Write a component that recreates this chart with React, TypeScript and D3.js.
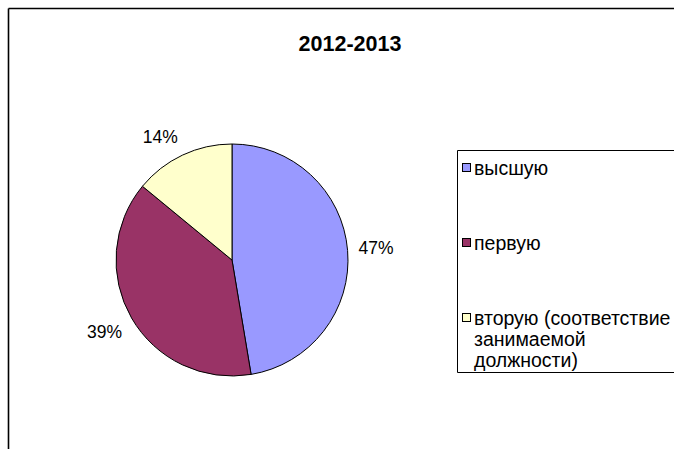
import React from 'react';
import * as d3 from 'd3';

const title = '2012-2013';
const categories = ['высшую', 'первую', 'вторую (соответствие занимаемой должности)'];
const values = [27, 22, 8];
const legendLines = [['высшую'], ['первую'], ['вторую (соответствие', 'занимаемой', 'должности)']];
const colors = ['#9999FF', '#993366', '#FFFFCC'];

const W = 720;
const H = 480;
const FONT = 'Liberation Sans, Arial, sans-serif';

const charW: Record<string, number> = { '0': 0.556, '1': 0.556, '2': 0.556, '3': 0.556, '4': 0.556, '5': 0.556, '6': 0.556, '7': 0.556, '8': 0.556, '9': 0.556, '%': 0.889 };
const textWidth = (s: string, fs: number) => s.split('').reduce((a, c) => a + (charW[c] ?? 0.556), 0) * fs;

export default function App() {
  const cx = 232, cy = 260, r = 116;
  const labelFs = 17.5;
  const legendFs = 19.5;
  const total = d3.sum(values);
  const pie = d3.pie<number>().sort(null).value((d) => d).startAngle(0).endAngle(2 * Math.PI);
  const arcs = pie(values);
  const arc = d3.arc<d3.PieArcDatum<number>>().innerRadius(0).outerRadius(r);
  const clamp = (v: number) => Math.max(-1, Math.min(1, v));

  const legendY = d3.scalePoint<string>().domain(categories).range([168, 318]);
  const lgTop = 150.5, lgBottom = 372.5, lgLeft = 457.5;

  return (
    <svg width={W} height={H} style={{ position: 'fixed', left: 0, top: 0, background: '#fff', display: 'block' }} fontFamily={FONT}>
      <line x1={8.5} y1={8.5} x2={W} y2={8.5} stroke="#000" strokeWidth={1.3} />
      <line x1={8.5} y1={8.5} x2={8.5} y2={H} stroke="#000" strokeWidth={1.6} />
      <text x={350} y={51} textAnchor="middle" fontWeight="bold" fontSize={21.5} fill="#000">{title}</text>
      <g transform={`translate(${cx},${cy})`}>
        {arcs.map((a, i) => (
          <path key={i} d={arc(a) || ''} fill={colors[i]} stroke="#000" strokeWidth={1} />
        ))}
      </g>
      {arcs.map((a, i) => {
        const mid = (a.startAngle + a.endAngle) / 2;
        const s = Math.sin(mid), c = Math.cos(mid);
        const rr = r + 11;
        const px = cx + rr * s, py = cy - rr * c;
        const label = `${Math.round((values[i] / total) * 100)}%`;
        const w = textWidth(label, labelFs);
        const h = labelFs * 0.92;
        const x = px + (w / 2) * clamp(s * 3);
        const y = py - (h / 2) * clamp(c * 3);
        return (
          <text key={i} x={x} y={y} dy="0.35em" textAnchor="middle" fontSize={labelFs} fill="#000">{label}</text>
        );
      })}
      <path d={`M${W},${lgTop}H${lgLeft}V${lgBottom}H${W}`} fill="none" stroke="#000" strokeWidth={1} />
      {categories.map((cat, i) => {
        const y0 = legendY(cat) as number;
        return (
          <g key={cat}>
            <rect x={462.5} y={y0 - 4.5} width={8} height={8} fill={colors[i]} stroke="#000" strokeWidth={1} />
            <text x={474} y={y0 + 6.5} fontSize={legendFs} fill="#000">
              {legendLines[i].map((ln, j) => (
                <tspan key={j} x={474} dy={j === 0 ? 0 : 21}>{ln}</tspan>
              ))}
            </text>
          </g>
        );
      })}
    </svg>
  );
}
